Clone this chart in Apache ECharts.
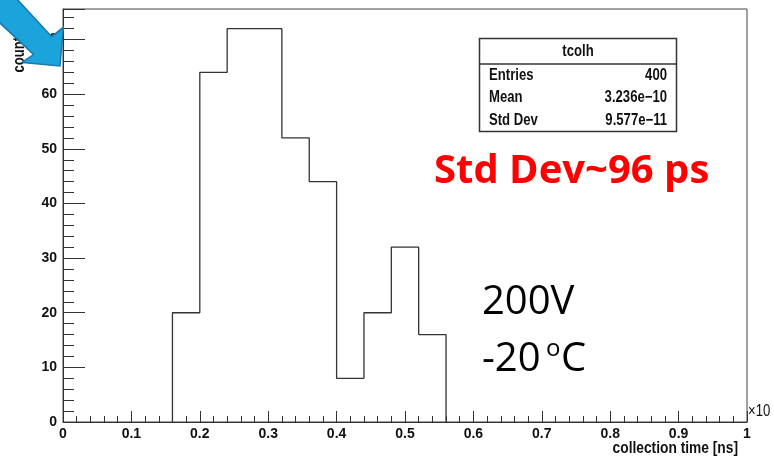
<!DOCTYPE html>
<html>
<head>
<meta charset="utf-8">
<script src="https://cdn.jsdelivr.net/npm/echarts@6/dist/echarts.min.js"></script>
<style>
html,body{margin:0;padding:0;background:#fff;}
#chart{width:774px;height:464px;}
</style>
</head>
<body>
<div id="chart"></div>
<script>
// ---- data ----
const histName = 'tcolh';
const binStart = 0.16;
const binWidth = 0.04;
const counts = [20, 64, 72, 72, 52, 44, 8, 20, 32, 16];
const statsLabels = ['Entries', 'Mean', 'Std Dev'];
const statsValues = ['400', '3.236e\u221210', '9.577e\u221211'];
const xTitle = 'collection time [ns]';
const yTitle = 'counts';
const xMin = 0, xMax = 1, xStep = 0.1;
const yMin = 0, yMax = 75.6, yStep = 10, yMinorStep = 2;

// ---- build step points from bins ----
const stepPoints = [[binStart, 0]];
counts.forEach((c, i) => stepPoints.push([binStart + i * binWidth, c]));
stepPoints.push([binStart + counts.length * binWidth, 0]);

const SANS = '"Liberation Sans", Arial, sans-serif';
const NX = 0.82; // narrow emulation
const chart = echarts.init(document.getElementById('chart'), null, {renderer: 'canvas'});

const statsGraphics = [];
const boxL = 479.5, boxT = 38.5, boxW = 197, boxH = 93, sepY = 64;
statsGraphics.push({type: 'rect', shape: {x: boxL, y: boxT, width: boxW, height: boxH},
  style: {fill: '#fff', stroke: '#333', lineWidth: 1.5}, z: 10});
statsGraphics.push({type: 'line', shape: {x1: boxL, y1: sepY, x2: boxL + boxW, y2: sepY},
  style: {stroke: '#333', lineWidth: 1.5}, z: 11});
statsGraphics.push({type: 'text', x: boxL + boxW / 2, y: 52, scaleX: NX, z: 11,
  style: {text: histName, font: 'bold 16px ' + SANS, fill: '#111', align: 'center', verticalAlign: 'middle'}});
statsLabels.forEach((lab, i) => {
  const yy = 75.5 + i * 22.5;
  statsGraphics.push({type: 'text', x: 489, y: yy, scaleX: NX, z: 11,
    style: {text: lab, font: 'bold 16px ' + SANS, fill: '#111', align: 'left', verticalAlign: 'middle'}});
  statsGraphics.push({type: 'text', x: 667, y: yy, scaleX: NX, z: 11,
    style: {text: statsValues[i], font: 'bold 16px ' + SANS, fill: '#111', align: 'right', verticalAlign: 'middle'}});
});

const option = {
  animation: false,
  backgroundColor: '#fff',
  grid: {left: 63, right: 27, top: 9, bottom: 42, show: true, borderColor: '#444', borderWidth: 1, backgroundColor: 'transparent'},
  xAxis: {
    type: 'value', min: xMin, max: xMax, interval: xStep, position: 'bottom',
    axisLine: {show: true, onZero: false, lineStyle: {color: '#333', width: 1}},
    axisTick: {show: true, inside: true, length: 11, lineStyle: {color: '#333'}},
    minorTick: {show: true, splitNumber: 5, length: 6, lineStyle: {color: '#333'}},
    splitLine: {show: false},
    axisLabel: {show: true, margin: 5, color: '#111', fontFamily: SANS, fontWeight: 'bold', fontSize: 14,
      formatter: v => (Math.abs(v) < 1e-9 ? '0' : Math.abs(v - 1) < 1e-9 ? '1' : v.toFixed(1))}
  },
  yAxis: [
    {
      type: 'value', min: yMin, max: yMax, interval: yStep, position: 'left',
      axisLine: {show: true, onZero: false, lineStyle: {color: '#333', width: 1}},
      axisTick: {show: true, inside: true, length: 22, lineStyle: {color: '#333'}},
      splitLine: {show: false},
      axisLabel: {show: true, margin: 6, color: '#111', fontFamily: SANS, fontWeight: 'bold', fontSize: 14,
        formatter: v => (Math.abs(v % 10) < 1e-9 ? String(v) : '')}
    },
    {
      type: 'value', min: yMin, max: yMax, interval: yMinorStep, position: 'left',
      axisLine: {show: false},
      axisTick: {show: true, inside: true, length: 11, lineStyle: {color: '#333'}},
      splitLine: {show: false},
      axisLabel: {show: false}
    }
  ],
  series: [{
    type: 'line', step: 'end', data: stepPoints, symbol: 'none', xAxisIndex: 0, yAxisIndex: 0,
    lineStyle: {color: '#333', width: 1.3}, z: 5
  }],
  graphic: [
    {type: 'text', x: 748, y: 412, scaleX: NX, style: {text: '\u00d710', font: '16px ' + SANS, fill: '#111', align: 'left', verticalAlign: 'middle'}},
    {type: 'text', x: 738, y: 449, scaleX: 0.86, style: {text: xTitle, font: 'bold 16px ' + SANS, fill: '#111', align: 'right', verticalAlign: 'middle'}},
    {type: 'text', x: 20, y: 51, rotation: Math.PI / 2, scaleX: NX,
      style: {text: yTitle, font: 'bold 16px ' + SANS, fill: '#111', align: 'center', verticalAlign: 'middle'}},
    ...statsGraphics,
    {type: 'text', x: 434, y: 172, z: 12,
      style: {text: 'Std Dev~96 ps', font: 'bold 40px "Open Sans", sans-serif', fill: '#ff0000', align: 'left', verticalAlign: 'middle'}},
    {type: 'text', x: 482, y: 303, z: 12,
      style: {text: '200V', font: '40px "Open Sans", sans-serif', fill: '#000', align: 'left', verticalAlign: 'middle'}},
    {type: 'text', x: 482, y: 360, z: 12,
      style: {text: '-20', font: '40px "Open Sans", sans-serif', fill: '#000', align: 'left', verticalAlign: 'middle'}},
    {type: 'text', x: 546, y: 349, z: 12,
      style: {text: 'o', font: '24px "Open Sans", sans-serif', fill: '#000', align: 'left', verticalAlign: 'middle'}},
    {type: 'text', x: 561, y: 360, z: 12,
      style: {text: 'C', font: '40px "Open Sans", sans-serif', fill: '#000', align: 'left', verticalAlign: 'middle'}},
    {type: 'polygon', z: 20,
      shape: {points: [[-9, -29], [51.7, 36.7], [63.3, 27.3], [60, 66], [22, 62.5], [33.5, 54.5], [-30, -5]]},
      style: {fill: '#1ba3dc', stroke: '#1a79ab', lineWidth: 1.5}}
  ]
};
chart.setOption(option);
</script>
</body>
</html>
